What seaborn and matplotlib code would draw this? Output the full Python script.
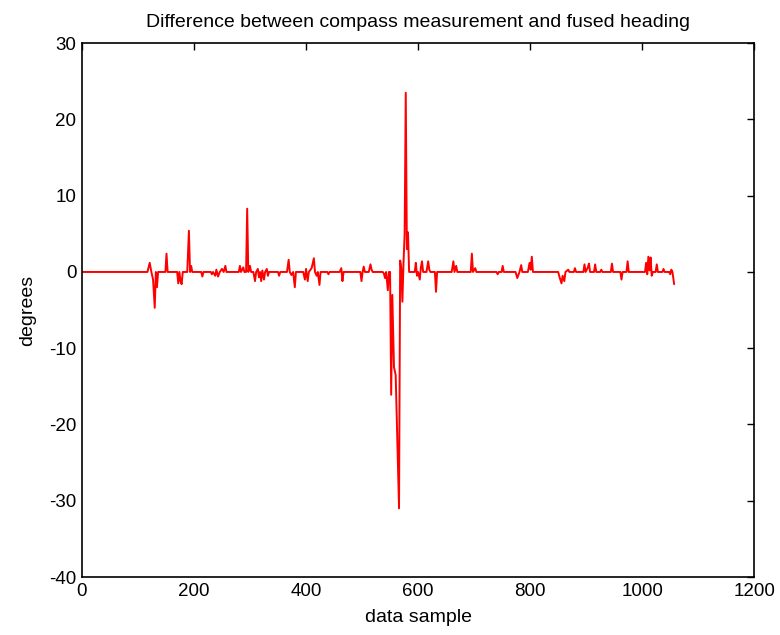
import matplotlib
matplotlib.use("Agg")
import matplotlib.pyplot as plt
import seaborn as sns
import pandas as pd

# Key points of the difference trace (data sample index, degrees)
sample = [0, 117, 121, 124, 127, 130, 132, 134, 136,
          149, 151, 153,
          170, 172, 174, 176, 178, 180,
          188, 191, 193, 195, 197,
          213, 215, 217,
          230, 232, 234, 238, 240, 243, 246, 250, 253, 256, 258,
          280, 282, 284, 288, 290,
          293, 295, 297, 300, 302,
          306, 309, 311, 314, 316, 318, 320, 322, 325, 327, 330, 332, 334,
          350, 352, 354, 366, 369, 371, 374, 377, 380, 382,
          395, 398, 400, 403, 405, 410, 414, 416, 419, 421, 424, 426,
          438, 440, 442, 460, 463, 465, 467,
          497, 499, 501, 503, 505, 512, 515, 517, 519,
          537, 539, 541, 543, 546, 548,
          550, 552, 554, 557, 560, 563, 566, 568, 570, 572, 574, 576, 578, 580, 582, 584,
          594, 596, 598, 600, 603, 605, 607, 609, 615, 618, 620, 622,
          630, 632, 634,
          660, 663, 665, 668, 670, 694, 696, 698, 702, 704,
          740, 742, 744, 749, 751, 753,
          774, 777, 779, 781, 784, 786, 796, 799, 801, 803, 805,
          850, 853, 856, 858, 861, 863, 868, 870,
          878, 880, 882, 895, 897, 899, 903, 905, 907, 914, 916, 918, 925, 927, 929,
          944, 946, 948, 961, 963, 965, 972, 974, 976,
          1005, 1007, 1009, 1011, 1013, 1015, 1017, 1019, 1024, 1026, 1028,
          1036, 1038, 1040, 1048, 1050, 1052, 1054, 1057]
degrees = [0, 0, 1.2, 0, -1.0, -4.7, 0, -2.0, 0,
           0, 2.4, 0,
           0, -1.5, 0, -1.2, -1.6, 0,
           0, 5.4, 0, 0.8, 0,
           0, -0.6, 0,
           0, -0.3, 0, -0.5, 0.3, -0.6, 0, 0.4, 0, 0.8, 0,
           0, 0.8, 0, 0.6, 0,
           0, 8.3, 0, 0.8, 0,
           0, -1.2, 0, 0.4, -0.7, 0, -1.2, 0.2, -1.0, 0, 0.4, -0.5, 0,
           0, -0.5, 0, 0, 1.6, 0, -0.4, 0, -2.0, 0,
           0, -1.0, 0.4, -1.2, 0, 0.5, 1.8, 0, -0.5, 0, -1.7, 0,
           0, -0.3, 0, 0, 0.5, -1.2, 0,
           0, -1.2, 0, 0.7, 0, 0, 1.0, 0.3, 0,
           0, -0.2, -0.8, 0, -2.4, 0,
           0, -16.1, -3.0, -12.5, -13.5, -22.5, -31.0, 1.5, 0.5, -3.9, 1.2, 5.0, 23.5, 3.0, 5.2, 0,
           0, 1.2, -0.5, 0, -1.0, 0.6, 1.4, 0, 0, 1.4, 0.3, 0,
           0, -2.6, 0,
           0, 1.4, 0, 0.8, 0, 0, 2.4, 0, 0.5, 0,
           0, -0.3, 0, 0, 0.8, 0,
           0, -0.8, -0.4, 0, 0.9, 0, 0, 1.2, 0.3, 2.0, 0,
           0, -0.8, -1.5, -0.5, -1.2, 0, 0.3, 0,
           0, 0.5, 0, 0, 1.0, 0, 0.6, 1.1, 0, 0, 1.0, 0, 0, 0.3, 0,
           0, 1.1, 0, 0, -1.0, 0, 0, 1.4, 0,
           0, 1.2, -0.3, 2.0, 0.2, 1.9, -0.5, 0, 0, 1.0, 0,
           0, 0.4, 0, 0, -0.3, 0.3, 0, -1.6]

x_ticks = [0, 200, 400, 600, 800, 1000, 1200]
y_ticks = [-40, -30, -20, -10, 0, 10, 20, 30]

sns.set_theme(style="white")
plt.rcParams['font.family'] = ['Liberation Sans', 'DejaVu Sans']
plt.rcParams['axes.unicode_minus'] = False

df = pd.DataFrame({"sample": sample, "degrees": degrees})

fig = plt.figure(figsize=(7.8, 6.35), dpi=100)
ax = fig.add_axes([0.105, 0.0913, 0.862, 0.8407])
sns.lineplot(data=df, x="sample", y="degrees", color="red", linewidth=1.4,
             estimator=None, sort=False, ax=ax)

ax.set_xlim(0, 1200)
ax.set_ylim(-40, 30)
ax.set_xticks(x_ticks)
ax.set_yticks(y_ticks)
ax.tick_params(direction="in", length=5, width=1, top=True, right=True,
               labelsize=13.5, colors="black", pad=4)
for s in ax.spines.values():
    s.set_visible(True)
    s.set_color("black")
    s.set_linewidth(1.2)
ax.set_xlabel("data sample", fontsize=14, color="black", labelpad=7)
ax.set_ylabel("degrees", fontsize=14, color="black", labelpad=9)
ax.set_title("Difference between compass measurement and fused heading",
             fontsize=14, color="black", pad=12)

fig.savefig("out.png", dpi=100, facecolor="white")
